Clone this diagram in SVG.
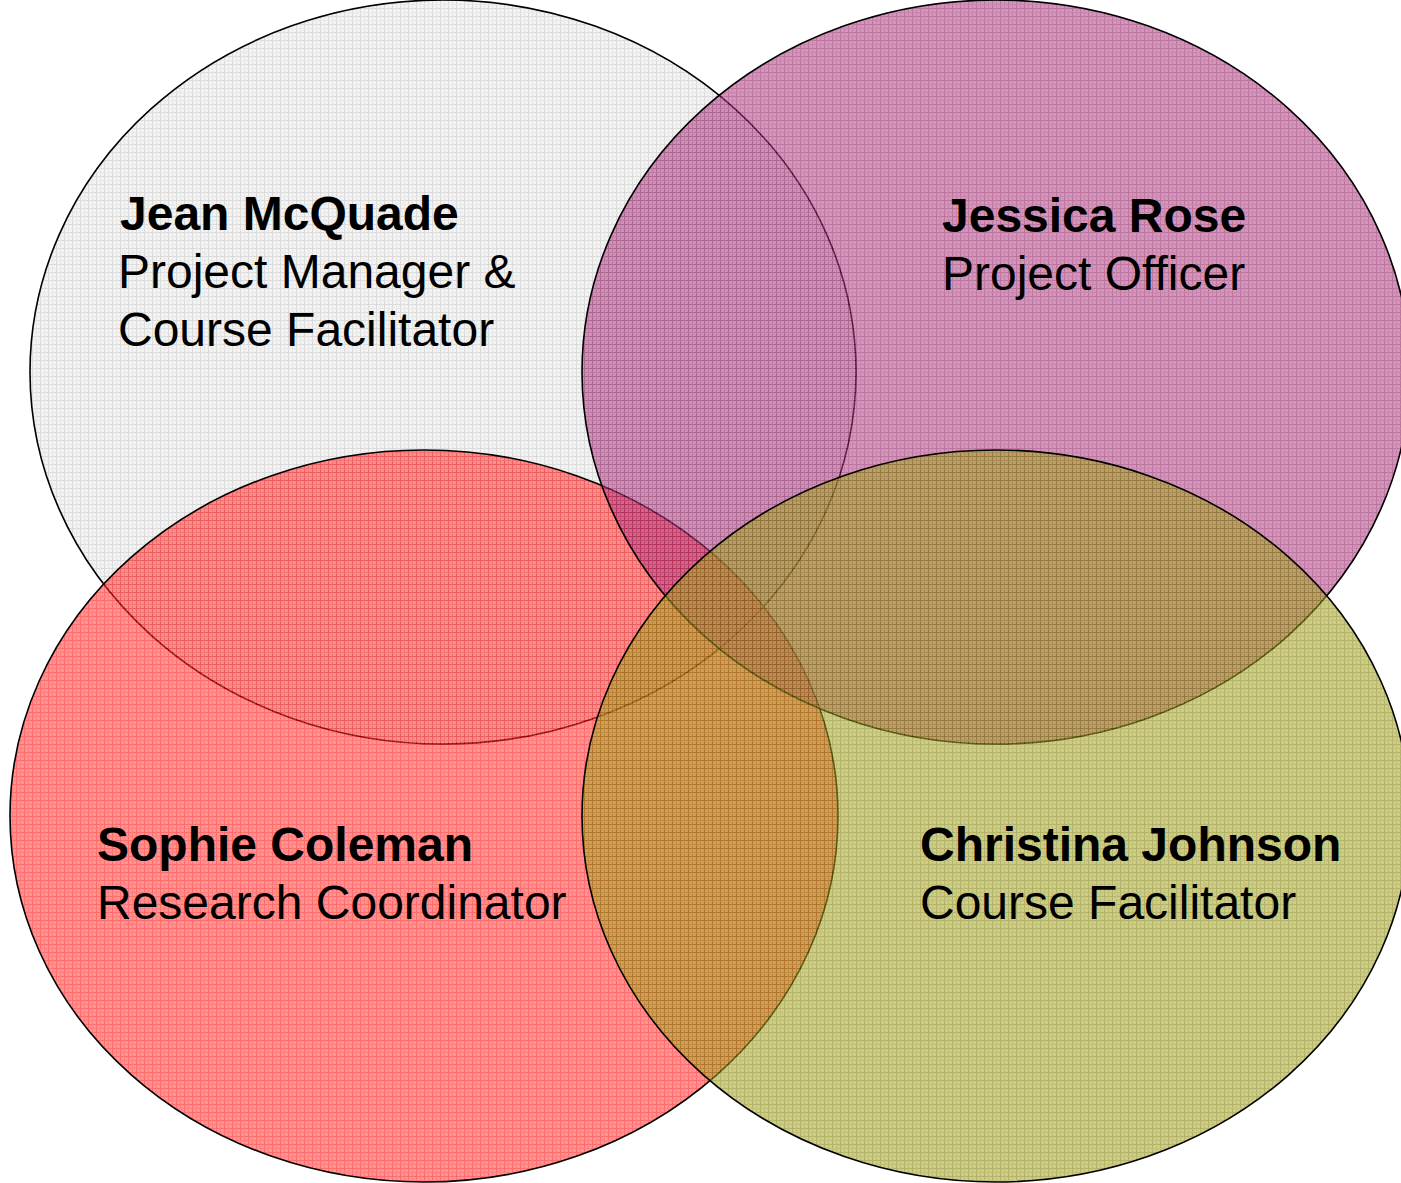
<svg xmlns="http://www.w3.org/2000/svg" width="1401" height="1183" viewBox="0 0 1401 1183">
<style>
.c{stroke:#000;stroke-width:1.6;fill-opacity:0.58}
.g{stroke:#000;stroke-width:1.6}
.n{font-family:"Liberation Sans",Arial,sans-serif;font-size:48px;font-weight:bold;fill:#000}
.r{font-family:"Liberation Sans",Arial,sans-serif;font-size:48px;fill:#000}
</style>
<defs>
<pattern id="pg" width="8" height="8" patternUnits="userSpaceOnUse">
<rect width="8" height="8" fill="#f3f3f3"/>
<path d="M0.5 0V8M0 0.5H8" stroke="#dadada" stroke-width="1"/>
<path d="M4.5 0V8M0 4.5H8" stroke="#e8e8e8" stroke-width="1"/>
</pattern>
<pattern id="pp" width="8" height="8" patternUnits="userSpaceOnUse">
<rect width="8" height="8" fill="#b44a88"/>
<path d="M0.5 0V8M0 0.5H8" stroke="#8a1058" stroke-width="1"/>
<path d="M4.5 0V8M0 4.5H8" stroke="#a02c74" stroke-width="1"/>
</pattern>
<pattern id="pr" width="8" height="8" patternUnits="userSpaceOnUse">
<rect width="8" height="8" fill="#ff4444"/>
<path d="M0.5 0V8M0 0.5H8" stroke="#ff0000" stroke-width="1"/>
<path d="M4.5 0V8M0 4.5H8" stroke="#ff2020" stroke-width="1"/>
</pattern>
<pattern id="po" width="8" height="8" patternUnits="userSpaceOnUse">
<rect width="8" height="8" fill="#a8a82c"/>
<path d="M0.5 0V8M0 0.5H8" stroke="#7a7a00" stroke-width="1"/>
<path d="M4.5 0V8M0 4.5H8" stroke="#929214" stroke-width="1"/>
</pattern>
</defs>
<rect width="1401" height="1183" fill="#fff"/>
<g id="jean">
<ellipse class="g" cx="443" cy="372" rx="413" ry="372" fill="url(#pg)"/>
</g>
<g id="sophie">
<ellipse class="c" cx="424" cy="816" rx="414" ry="366" fill="url(#pr)"/>
</g>
<g id="jessica">
<ellipse class="c" cx="996" cy="372" rx="414" ry="372" fill="url(#pp)"/>
</g>
<g id="christina">
<ellipse class="c" cx="996" cy="816" rx="414" ry="366" fill="url(#po)"/>
</g>
<g id="connectors"></g>
<g id="labels">
<text class="n" x="120" y="230">Jean McQuade</text>
<text class="r" x="118" y="288">Project Manager &amp;</text>
<text class="r" x="118" y="346">Course Facilitator</text>
<text class="n" x="942" y="232">Jessica Rose</text>
<text class="r" x="942" y="290">Project Officer</text>
<text class="n" x="97" y="861">Sophie Coleman</text>
<text class="r" x="97" y="919">Research Coordinator</text>
<text class="n" x="920" y="861">Christina Johnson</text>
<text class="r" x="920" y="919">Course Facilitator</text>
</g>
</svg>
